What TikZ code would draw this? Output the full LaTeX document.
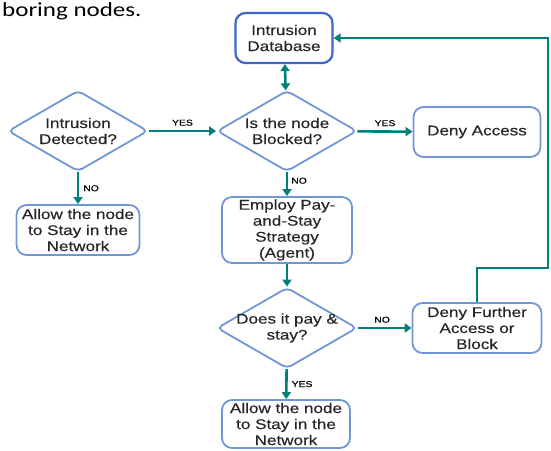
\documentclass[tikz,border=0pt]{standalone}
\usepackage{fontspec}
\setmainfont{Liberation Sans}[FakeStretch=1.22, FakeBold=0.35]
\newfontfamily\introfont{Carlito}[FakeStretch=1.25]
\usetikzlibrary{shapes.geometric,arrows.meta}
\definecolor{boxblue}{RGB}{112,150,214}
\definecolor{dbblue}{RGB}{62,102,200}
\definecolor{flowteal}{RGB}{0,128,124}

\begin{document}
\begin{tikzpicture}[x=1pt, y=-1pt,
    box/.style={draw=boxblue, line width=1.8pt, rounded corners=10pt, align=center,
      inner sep=1pt, text=black!85, font=\fontsize{14}{16}\selectfont},
    test/.style={diamond, draw=boxblue, line width=1.8pt, rounded corners=5pt, aspect=1.7,
      inner xsep=-10pt, inner ysep=0pt, minimum width=140pt, minimum height=81pt,
      align=center, text=black!85, font=\fontsize{14}{16}\selectfont},
    flow/.style={draw=flowteal, line width=2.6pt, -{Triangle[width=9pt,length=7pt]}},
    tag/.style={font=\fontsize{8.5}{9}\selectfont, inner sep=1pt}]
    \useasboundingbox (0,0) rectangle (551,450);
    \node[anchor=base west, inner sep=0pt, font=\introfont\fontsize{20}{24}\selectfont] (intro) at (2,16) {boring nodes.};

    \node[box, draw=dbblue, line width=2.2pt, minimum width=97pt, minimum height=50pt] (db) at (284,38) {Intrusion\\Database};
    \node[test] (detect) at (78,131) {Intrusion\\Detected?};
    \node[test] (blocked) at (287,131) {Is the node\\Blocked?};
    \node[box, minimum width=127pt, minimum height=50pt] (deny) at (477,132) {Deny Access};
    \node[box, minimum width=123pt, minimum height=50pt] (allowA) at (78,230) {Allow the node\\to Stay in the\\Network};
    \node[box, minimum width=130pt, minimum height=66pt] (employ) at (287,230) {Employ Pay-\\and-Stay\\Strategy\\(Agent)};
    \node[test] (pay) at (287,328) {Does it pay \&\\stay?};
    \node[box, minimum width=129pt, minimum height=50pt] (further) at (477,328) {Deny Further\\Access or\\Block};
    \node[box, minimum width=128pt, minimum height=48pt] (allowB) at (286,424) {Allow the node\\to Stay in the\\Network};
    \coordinate (turn) at (548,268);

    \draw[flow] (detect) -- node[tag, above=3pt] {YES} (blocked);
    \draw[flow] (blocked) -- node[tag, above=3pt] {YES} (deny);
    \draw[flow, {Triangle[width=9pt,length=7pt]}-{Triangle[width=9pt,length=7pt]}] (db) -- (blocked);
    \draw[flow] (detect) -- node[tag, right=3pt] {NO} (allowA);
    \draw[flow] (blocked) -- node[tag, right=2pt, pos=0.35] {NO} (employ);
    \draw[flow] (employ) -- (pay);
    \draw[flow] (pay) -- node[tag, above=3pt, pos=0.45] {NO} (further);
    \draw[flow] (pay) -- node[tag, right=3pt] {YES} (allowB);
    \draw[flow, line width=2pt] (further.north) |- (turn) |- (db.east);
\end{tikzpicture}
\end{document}
